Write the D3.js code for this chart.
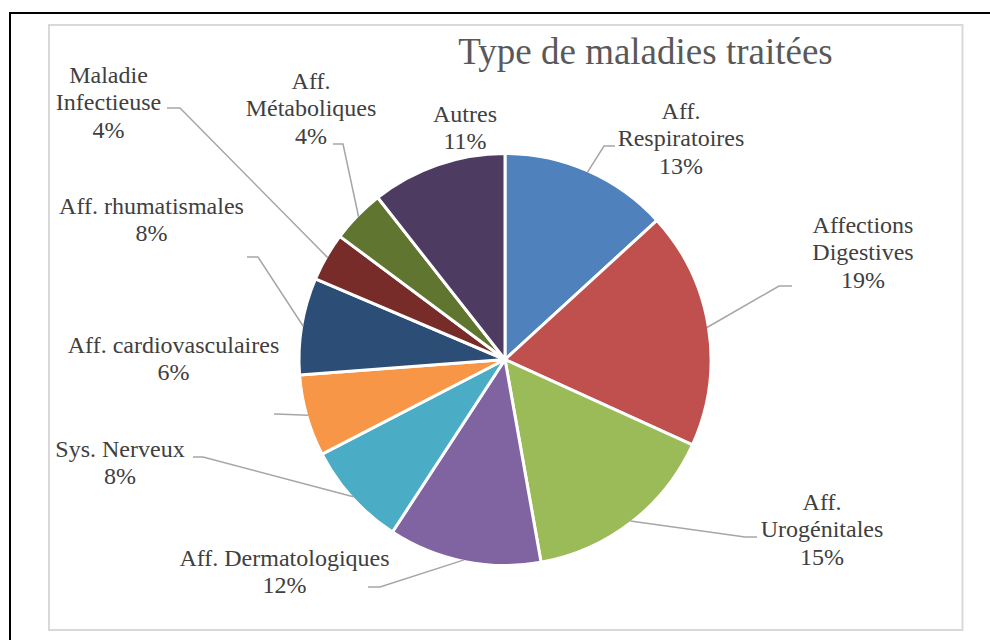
<!DOCTYPE html>
<html>
<head>
<meta charset="utf-8">
<script src="https://cdn.jsdelivr.net/npm/d3@7"></script>
<style>
  html, body { margin: 0; padding: 0; background: #fff; }
  svg { display: block; }
  svg text { font-family: "Liberation Serif", "Times New Roman", Times, serif; }
</style>
</head>
<body>
<svg id="chart" width="990" height="640"></svg>
<script>
// ---- Data -------------------------------------------------------------
const title = "Type de maladies traitées";

// Category names, split where the label wraps
const categoryLines = [
  ["Aff.", "Respiratoires"],
  ["Affections", "Digestives"],
  ["Aff.", "Urogénitales"],
  ["Aff. Dermatologiques"],
  ["Sys. Nerveux"],
  ["Aff. cardiovasculaires"],
  ["Aff. rhumatismales"],
  ["Maladie", "Infectieuse"],
  ["Aff.", "Métaboliques"],
  ["Autres"]
];
const categories = categoryLines.map(l => l.join(" "));

// Share of cases per disease type (%)
const shares = [13.2, 18.6, 15.4, 12.0, 8.2, 6.4, 7.6, 3.8, 4.2, 10.6];

const colors = ["#4F81BD", "#C0504D", "#9BBB59", "#8064A2", "#4BACC6",
                "#F79646", "#2C4D75", "#772C2A", "#5F7530", "#4D3B62"];

// ---- Layout -----------------------------------------------------------
const W = 990, H = 640;
const cx = 505, cy = 359.5, R = 206;
const lineH = 27.3;

// Label placement: centre x, first baseline, leader elbow and end (chart px)
const labelLayout = [
  { x: 681,   y: 119, elbow: [604, 146], end: [615, 146] },
  { x: 863,   y: 233, elbow: [779, 286], end: [792, 286] },
  { x: 822,   y: 510, elbow: [745, 537], end: [757, 537] },
  { x: 284.5, y: 566, elbow: [380, 587], end: [368, 587] },
  { x: 120,   y: 457, elbow: [203, 457], end: [193, 457] },
  { x: 173.5, y: 353, elbow: [276, 414], end: [274, 414] },
  { x: 151.5, y: 214, elbow: [258, 257], end: [247, 257] },
  { x: 108.5, y: 83,  elbow: [180, 108], end: [167, 108] },
  { x: 311,   y: 89,  elbow: [343, 144], end: [333, 144] },
  { x: 465,   y: 122, elbow: null, end: null }
];

const svg = d3.select("#chart");

// Outer frame and chart-area border
svg.append("rect").attr("x", 0).attr("y", 0).attr("width", W).attr("height", H).attr("fill", "#fff");
svg.append("rect")
  .attr("x", 10).attr("y", 13).attr("width", W + 20).attr("height", H + 20)
  .attr("fill", "none").attr("stroke", "#000").attr("stroke-width", 2);
svg.append("rect")
  .attr("x", 49).attr("y", 25).attr("width", 913.5).attr("height", 605)
  .attr("fill", "#fff").attr("stroke", "#D9D9D9").attr("stroke-width", 2);

// Title
svg.append("text")
  .attr("x", 645.5).attr("y", 64)
  .attr("text-anchor", "middle")
  .style("font-size", "37px")
  .attr("fill", "#595959")
  .text(title);

// Pie
const total = d3.sum(shares);
const pie = d3.pie().sort(null).value(d => d);
const arcs = pie(shares);
const arc = d3.arc().innerRadius(0).outerRadius(R);
const color = d3.scaleOrdinal().domain(categories).range(colors);

const g = svg.append("g").attr("transform", `translate(${cx},${cy})`);
g.selectAll("path.slice")
  .data(arcs)
  .join("path")
  .attr("class", "slice")
  .attr("d", arc)
  .attr("fill", (d, i) => color(categories[i]))
  .attr("stroke", "#fff")
  .attr("stroke-width", 3)
  .attr("stroke-linejoin", "round");

// Leader lines from each slice's outer edge to its label
const edgeR = R - 1.5;
const leaders = svg.append("g");
arcs.forEach((d, i) => {
  const L = labelLayout[i];
  if (!L.elbow) return;
  const a = (d.startAngle + d.endAngle) / 2;
  const start = [cx + edgeR * Math.sin(a), cy - edgeR * Math.cos(a)];
  leaders.append("polyline")
    .attr("points", [start, L.elbow, L.end].map(p => p.join(",")).join(" "))
    .attr("fill", "none")
    .attr("stroke", "#A6A6A6")
    .attr("stroke-width", 1.5);
});

// Data labels: category name and rounded percentage
const labels = svg.append("g");
arcs.forEach((d, i) => {
  const L = labelLayout[i];
  const lines = categoryLines[i].concat([Math.round(d.data / total * 100) + "%"]);
  const t = labels.append("text")
    .attr("x", L.x).attr("y", L.y)
    .attr("text-anchor", "middle")
    .attr("fill", "#404040")
    .style("font-size", "24px");
  lines.forEach((s, k) => {
    t.append("tspan").attr("x", L.x).attr("y", L.y + k * lineH).text(s);
  });
});
</script>
</body>
</html>
